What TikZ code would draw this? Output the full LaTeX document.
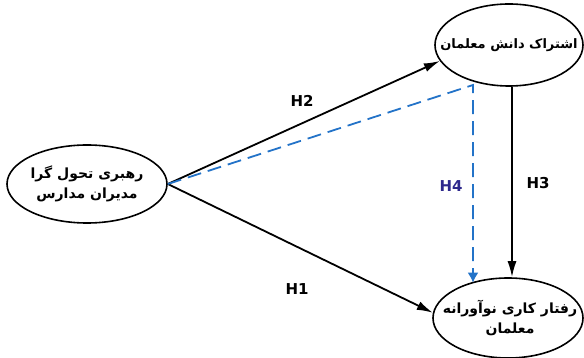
\documentclass[tikz,border=0pt]{standalone}
\usepackage{fontspec}
\usetikzlibrary{shapes.geometric,arrows.meta}
\TeXXeTstate=1
\newfontfamily\arabicfont[Script=Arabic]{DejaVu Sans}
\setsansfont{DejaVu Sans}
\definecolor{dashblue}{RGB}{35,115,200}
\definecolor{hfour}{RGB}{45,40,140}
\tikzset{
  construct/.style={ellipse, draw, line width=1.6pt, inner sep=0pt},
  ctext/.style={align=center, inner sep=0pt, font=\arabicfont\bfseries\fontsize{14}{20}\selectfont},
  path/.style={line width=1.8pt, -{Latex[length=16pt,width=9pt]}},
  hlabel/.style={font=\sffamily\bfseries\fontsize{15}{15}\selectfont}
}
\begin{document}
\begin{tikzpicture}[x=1pt,y=1pt,yscale=-1,xscale=1]
            \useasboundingbox (0,0) rectangle (584,358);

            %Shape: Ellipse (leadership)
            \node[construct, minimum width=160, minimum height=78] (lead) at (87,184) {};
            \node[ctext] (leadtext) at (lead) {\beginR رهبری تحول گرا\endR\\ \beginR مدیران مدارس\endR};
            %Shape: Ellipse (knowledge sharing)
            \node[construct, minimum width=148, minimum height=82] (share) at (509,45) {};
            \node[ctext, font=\arabicfont\bfseries\fontsize{13}{20}\selectfont] (sharetext) at (share) {\beginR اشتراک دانش معلمان\endR};
            %Shape: Ellipse (innovative behaviour)
            \node[construct, minimum width=150, minimum height=80] (behave) at (508,318) {};
            \node[ctext] (behavetext) at ([xshift=2pt]behave) {\beginR رفتار کاری نوآورانه\endR\\ \beginR معلمان\endR};

            %Straight Lines
            \draw [path] (lead.east) -- (share.193);
            \draw [path] (lead.east) -- (behave.176);
            \draw [path] ([xshift=3pt]share.south) -- ([xshift=3pt]share.south |- behave.north);
            %Dashed Lines
            \coordinate (bend) at (473,85);
            \draw [dashblue, line width=1.8pt, dash pattern=on 14pt off 7pt, -{Latex[length=10pt,width=11pt]}] (lead.east) -- (bend) -- (bend |- behave.137);

            % Text Node
            \node[hlabel] (h2) at (302,101) {H2};
            \node[hlabel] (h1) at (297,289) {H1};
            \node[hlabel] (h3) at (538,183) {H3};
            \node[hlabel, text=hfour] (h4) at (451,186) {H4};

\end{tikzpicture}
\end{document}
